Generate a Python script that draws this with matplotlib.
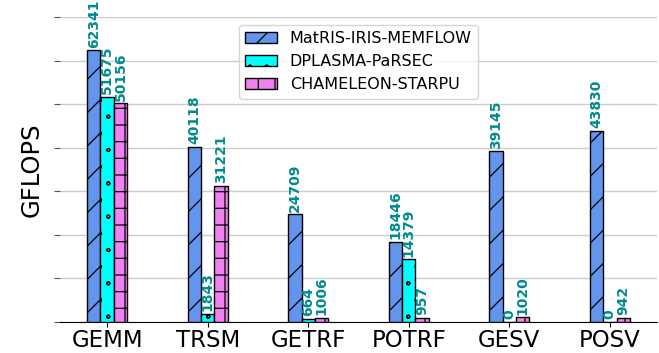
import matplotlib
matplotlib.use("Agg")
import matplotlib.pyplot as plt
from matplotlib import hatch as mhatch
import numpy as np

categories = ["GEMM", "TRSM", "GETRF", "POTRF", "GESV", "POSV"]
series_names = ["MatRIS-IRIS-MEMFLOW", "DPLASMA-PaRSEC", "CHAMELEON-STARPU"]
matris = [62341, 40118, 24709, 18446, 39145, 43830]
dplasma = [51675, 1843, 664, 14379, 0, 0]
chameleon = [50156, 31221, 1006, 957, 1020, 942]

colors = ["#6495ED", "#00FFFF", "#EE82EE"]
hatches = ["/", "o", "+"]

# smaller hollow circles for the 'o' hatch
mhatch.SmallCircles.size = 0.09

plt.rcParams["hatch.linewidth"] = 0.9
fig = plt.figure(figsize=(6.59, 3.53), dpi=100)
ax = fig.add_axes([0.091, 0.088, 0.906, 0.864])

x = np.arange(len(categories))
w = 0.133
for i, (vals, name) in enumerate(zip([matris, dplasma, chameleon], series_names)):
    bars = ax.bar(x + (i - 1) * w, vals, w, color=colors[i], edgecolor="black",
                  hatch=hatches[i], label=name, linewidth=1, zorder=3)
    for b, v in zip(bars, vals):
        ax.annotate(str(v), (b.get_x() + b.get_width() / 2, b.get_height()),
                    xytext=(0, 2), textcoords="offset points", rotation=90,
                    ha="center", va="bottom", color="#008B8B", fontsize=10,
                    fontweight="bold", zorder=4)

ax.set_ylim(0, 70000)
ax.set_yticks(np.arange(0, 70001, 10000))
ax.set_yticklabels([])
ax.yaxis.grid(True, color="#cccccc", linewidth=1, zorder=0)
ax.set_xticks(x)
ax.set_xticklabels(categories, fontsize=16.5)
ax.set_ylabel("GFLOPS", fontsize=17.5, labelpad=4)
ax.tick_params(axis="y", length=4, color="#555555")
ax.tick_params(axis="x", length=3.5, pad=1.5)
for s in ["top", "right", "left"]:
    ax.spines[s].set_visible(False)
ax.legend(loc="upper center", fontsize=11.5)

fig.savefig("out.png", dpi=100)
